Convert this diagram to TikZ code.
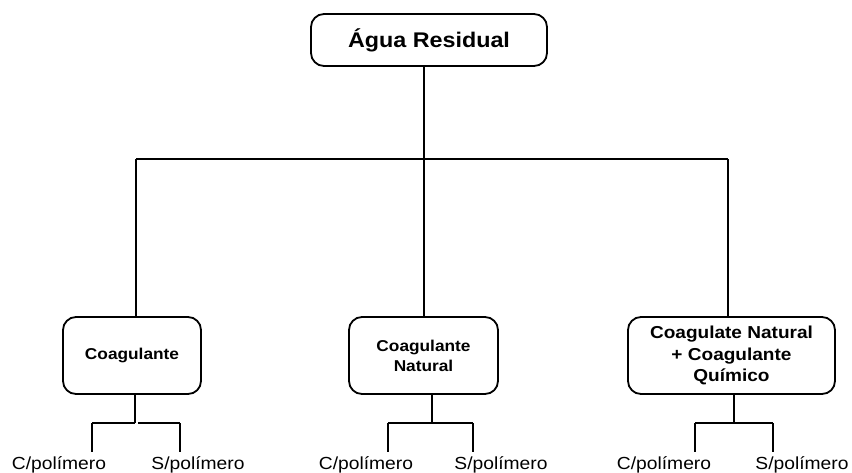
\documentclass[tikz,border=0pt]{standalone}
\usepackage{fontspec}
\setmainfont{Liberation Sans}
\newfontfamily\widesans[FakeStretch=1.1]{Liberation Sans}
\begin{document}
\begin{tikzpicture}[x=1pt,y=-1pt,
  box/.style={draw, line width=1.8pt, rounded corners=13pt, align=center,
    inner sep=0pt, font=\widesans\bfseries\fontsize{15.7}{20}\selectfont},
  link/.style={line width=1.8pt},
  leaf/.style={anchor=base, inner sep=0pt,
    font=\widesans\fontsize{17.5}{20}\selectfont}]
\useasboundingbox (0,0) rectangle (852,472);

% root
\node[box, minimum width=236pt, minimum height=52pt,
  font=\widesans\bfseries\fontsize{21.2}{24}\selectfont] (root) at (429,40) {Água Residual};

% second level
\node[box, minimum width=138pt, minimum height=77pt] (c1) at (132,355.5) {Coagulante};
\node[box, minimum width=149pt, minimum height=77pt] (c2) at (423.5,355.5) {Coagulante\\Natural};
\node[box, minimum width=207pt, minimum height=77pt,
  font=\widesans\bfseries\fontsize{17.3}{21.5}\selectfont] (c3) at (731.5,355.5)
  {Coagulate Natural\\+ Coagulante\\Químico};

% main branching
\coordinate (j0) at (424,159);
\coordinate (bl) at (136,159);
\coordinate (br) at (728,159);
\draw[link] (root.south -| j0) -- (j0);
\draw[link] (bl) -- (br);
\draw[link] (bl) -- (bl |- c1.north);
\draw[link] (j0) -- (j0 |- c2.north);
\draw[link] (br) -- (br |- c3.north);

% leaves
\foreach \i/\xc/\xs/\xa/\xb in {1/59/198/92/180, 2/366/501/388/473, 3/664/802/695/773}{
  \node[leaf] (p\i) at (\xc,469) {C/polímero};
  \node[leaf] (q\i) at (\xs,469) {S/polímero};
  \coordinate (a\i) at (\xa,423);
  \coordinate (b\i) at (\xb,423);
  \coordinate (ae\i) at (\xa,452);
  \coordinate (be\i) at (\xb,452);
  \draw[link] (a\i) -- (ae\i);
  \draw[link] (b\i) -- (be\i);
}
\coordinate (s1) at (135,423);
\coordinate (g1) at (138,423);
\coordinate (s2) at (432,423);
\coordinate (s3) at (734,423);
\draw[link] (c1.south -| s1) -- (s1);
\draw[link] (c2.south -| s2) -- (s2);
\draw[link] (c3.south -| s3) -- (s3);
\draw[link] (a1) -- (s1);
\draw[link] (g1) -- (b1);
\draw[link] (a2) -- (b2);
\draw[link] (a3) -- (b3);
\end{tikzpicture}
\end{document}
